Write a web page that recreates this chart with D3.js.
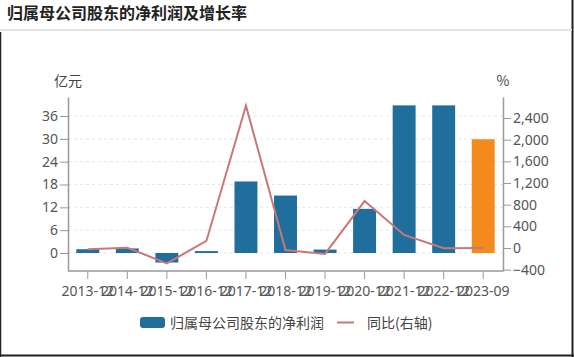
<!DOCTYPE html>
<html><head><meta charset="utf-8">
<script src="https://cdn.jsdelivr.net/npm/d3@7"></script>
<style>
html,body{margin:0;padding:0;background:#fff;}
svg{display:block;font-family:"Noto Sans CJK SC","Noto Sans",sans-serif;}
</style></head><body>
<script>
const categories = ["2013-12","2014-12","2015-12","2016-12","2017-12","2018-12","2019-12","2020-12","2021-12","2022-12","2023-09"];
const profit = [1.0, 1.2, -2.5, 0.5, 18.8, 15.1, 0.9, 11.6, 38.8, 38.8, 29.9];
const growth = [-24, 5, -283, 130, 2627, -37, -110, 867, 240, -5, 0];
const leftTicks = [0, 6, 12, 18, 24, 30, 36];
const rightTicks = [-400, 0, 400, 800, 1200, 1600, 2000, 2400];

(function(){
const W = 574, H = 357;
const svg = d3.select("body").append("svg").attr("width", W).attr("height", H);

// frame
svg.append("line").attr("x1",0.5).attr("x2",0.5).attr("y1",32).attr("y2",H).attr("stroke","#222").attr("stroke-width",1.5);
svg.append("line").attr("x1",572.5).attr("x2",572.5).attr("y1",0).attr("y2",H).attr("stroke","#222").attr("stroke-width",2);
svg.append("line").attr("x1",0).attr("x2",W).attr("y1",355.5).attr("y2",355.5).attr("stroke","#222").attr("stroke-width",2);

// title
svg.append("text").attr("x",7).attr("y",19).attr("font-size",16).attr("font-weight","bold").attr("fill","#222").text("归属母公司股东的净利润及增长率");
svg.append("rect").attr("x",0).attr("y",29).attr("width",572).attr("height",2).attr("fill","#e2e2e2");

const pLeft = 68, pRight = 503, pTop = 97, pBottom = 271;
const x = d3.scaleBand().domain(categories).range([pLeft, pRight]).paddingInner(0.42).paddingOuter(0.21);
const yL = d3.scaleLinear().domain([-4.73, 41]).range([pBottom, pTop]);
const yR = d3.scaleLinear().domain([-425, 2788]).range([pBottom, pTop]);

// grid
svg.append("g").selectAll("line").data(leftTicks).join("line")
  .attr("x1",pLeft).attr("x2",pRight).attr("y1",d=>yL(d)).attr("y2",d=>yL(d))
  .attr("stroke","#e6e6e6").attr("stroke-dasharray","3,3");

// bars
svg.append("g").selectAll("rect").data(profit).join("rect")
  .attr("x",(d,i)=>x(categories[i]))
  .attr("width",x.bandwidth())
  .attr("y",d=>Math.min(yL(d),yL(0)))
  .attr("height",d=>Math.abs(yL(d)-yL(0)))
  .attr("fill",(d,i)=>i===categories.length-1?"#f28a1e":"#1f6e9c");

// line
const line = d3.line().x((d,i)=>x(categories[i])+x.bandwidth()/2).y(d=>yR(d));
svg.append("path").datum(growth).attr("d",line).attr("fill","none").attr("stroke","#c87878").attr("stroke-width",2);

// axes
const axisColor = "#999";
const gL = svg.append("g").attr("transform",`translate(${pLeft},0)`)
  .call(d3.axisLeft(yL).tickValues(leftTicks).tickSize(8).tickPadding(2).tickSizeOuter(0));
const gR = svg.append("g").attr("transform",`translate(${pRight},0)`)
  .call(d3.axisRight(yR).tickValues(rightTicks).tickFormat(d3.format(",")).tickSize(8).tickPadding(2).tickSizeOuter(0));
const gB = svg.append("g").attr("transform",`translate(0,${pBottom})`)
  .call(d3.axisBottom(x).tickSize(8).tickPadding(7).tickSizeOuter(0));
[gL,gR,gB].forEach(g=>{
  g.select(".domain").attr("stroke",axisColor).attr("stroke-width",1.5);
  g.selectAll(".tick line").attr("stroke",axisColor);
  g.selectAll(".tick text").attr("fill","#555").attr("font-size",14).attr("font-family","'Noto Sans','Noto Sans CJK SC',sans-serif");
});
gB.select(".domain").attr("d",`M${pLeft},0H${pRight}`);

svg.append("text").attr("x",68).attr("y",86).attr("text-anchor","middle").attr("font-size",14).attr("fill","#444").text("亿元");
svg.append("text").attr("x",503).attr("y",86).attr("text-anchor","middle").attr("font-size",14).attr("fill","#444").text("%");

// legend
svg.append("rect").attr("x",140).attr("y",317).attr("width",25).attr("height",11).attr("rx",3).attr("fill","#1f6e9c");
svg.append("text").attr("x",170).attr("y",328).attr("font-size",14).attr("fill","#444").text("归属母公司股东的净利润");
svg.append("line").attr("x1",337).attr("x2",354).attr("y1",322.5).attr("y2",322.5).attr("stroke","#c87878").attr("stroke-width",2);
svg.append("text").attr("x",367).attr("y",328).attr("font-size",14).attr("fill","#444").text("同比(右轴)");
})();
</script>
</body></html>
